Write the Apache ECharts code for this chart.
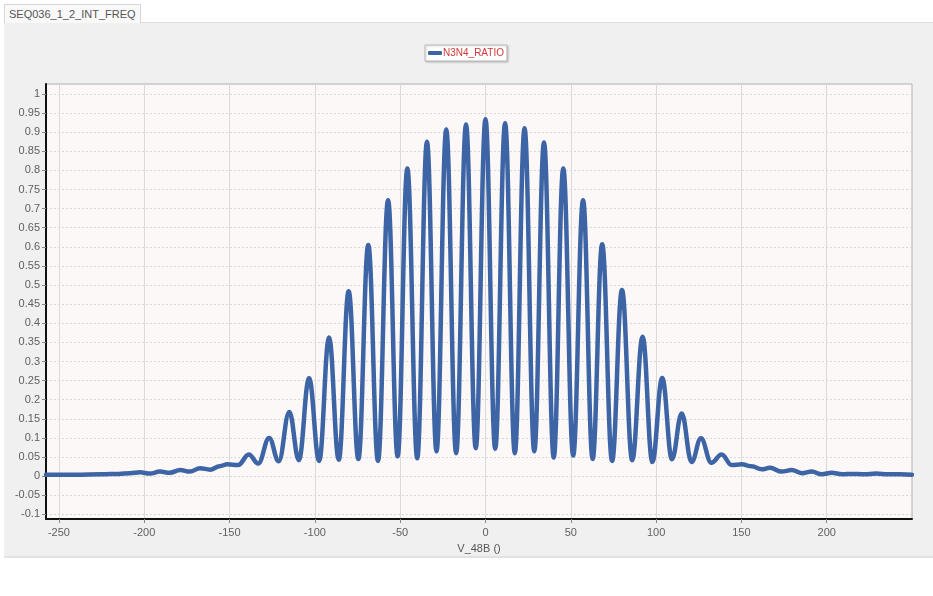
<!DOCTYPE html>
<html>
<head>
<meta charset="utf-8">
<script src="https://cdn.jsdelivr.net/npm/echarts@6/dist/echarts.min.js"></script>
<style>
  body { margin: 0; width: 933px; height: 596px; background: #fff; position: relative; overflow: hidden; font-family: "Liberation Sans", Arial, sans-serif; }
  #panel { position: absolute; left: 4px; top: 22px; width: 929px; height: 533px; background: #f0f0f0; border-top: 1px solid #ddd; border-bottom: 2px solid #e2e2e2; }
  #tab { position: absolute; left: 4px; top: 4px; height: 18px; padding: 0 4px; line-height: 18px; font-size: 11px; color: #555; background: #f9f9f9; border: 1px solid #d6d6d6; border-bottom: none; }
  #main { position: absolute; left: 0; top: 0; width: 933px; height: 596px; }
</style>
</head>
<body>
<div id="panel"></div>
<div id="tab">SEQ036_1_2_INT_FREQ</div>
<div id="main"></div>
<script>
// values: fringe peaks, troughs and the small tail ripples
var voltage = [
  -257.6, -240, -225, -215, -208.4, -202.5, -196.6, -190.8, -185, -179, -173.2, -167.3, -161.4, -155.8, -151.3, -145,
  -138.7, -133.2, -126.8, -121.2, -115.0, -109.4, -103.4, -97.5, -91.7, -86.0, -80.2, -74.5, -68.7, -63.0,
  -57.1, -51.5, -45.8, -40.0, -34.3, -28.7, -23.0, -17.2, -11.4, -5.7, 0, 5.7, 11.5, 17.2, 22.9, 28.6,
  34.3, 40.0, 45.6, 51.4, 57.2, 62.8, 68.4, 74.2, 80.0, 86.0, 92.1, 97.8, 103.6, 109.3, 115.0, 120.8,
  126.3, 132.4, 138.4, 144.3, 150.2, 156, 161.9, 166.8, 173.6, 179.5, 185.4, 191.3, 197.1, 203,
  209, 215, 222, 229, 236, 243, 250
];
var ratio = [
  0.004, 0.004, 0.005, 0.006, 0.008, 0.010, 0.007, 0.012, 0.009, 0.016, 0.012, 0.021, 0.017, 0.026, 0.031, 0.029,
  0.057, 0.033, 0.100, 0.039, 0.168, 0.042, 0.256, 0.040, 0.363, 0.043, 0.484, 0.045, 0.605, 0.040,
  0.722, 0.052, 0.805, 0.047, 0.875, 0.065, 0.907, 0.060, 0.920, 0.073, 0.934, 0.072, 0.923, 0.060, 0.910, 0.065,
  0.873, 0.049, 0.805, 0.054, 0.722, 0.045, 0.607, 0.040, 0.487, 0.042, 0.365, 0.037, 0.257, 0.044, 0.164, 0.037,
  0.099, 0.035, 0.057, 0.029, 0.031, 0.026, 0.018, 0.022, 0.012, 0.016, 0.008, 0.012, 0.005, 0.009,
  0.005, 0.006, 0.005, 0.007, 0.005, 0.005, 0.004
];
var xTicks = [-250, -200, -150, -100, -50, 0, 50, 100, 150, 200];
var yTicks = [-0.1, -0.05, 0, 0.05, 0.1, 0.15, 0.2, 0.25, 0.3, 0.35, 0.4, 0.45, 0.5,
  0.55, 0.6, 0.65, 0.7, 0.75, 0.8, 0.85, 0.9, 0.95, 1];

var chart = echarts.init(document.getElementById('main'));

var points = voltage.map(function (v, i) { return [v, ratio[i]]; });

var option = {
  backgroundColor: 'transparent',
  animation: false,
  textStyle: { fontFamily: 'Liberation Sans' },
  legend: {
    data: ['N3N4_RATIO'],
    left: 425,
    top: 45,
    backgroundColor: '#fff',
    borderColor: '#b8b8b8',
    borderWidth: 1,
    padding: [3, 3, 3, 3],
    itemWidth: 14,
    itemHeight: 4,
    itemGap: 2,
    icon: 'roundRect',
    textStyle: { color: '#d0383a', fontSize: 10, padding: [0, 0, 0, -4] },
    shadowColor: 'rgba(0,0,0,0.2)',
    shadowBlur: 2,
    shadowOffsetX: 1,
    shadowOffsetY: 1
  },
  grid: {
    left: 46, right: 21, top: 84, bottom: 77,
    show: true,
    backgroundColor: '#fcf8f7',
    borderColor: '#b0b0b0',
    borderWidth: 1
  },
  xAxis: {
    type: 'value',
    min: -257.6,
    max: 250,
    name: 'V_48B ()',
    nameLocation: 'middle',
    nameGap: 24,
    nameTextStyle: { color: '#555', fontSize: 11 },
    axisLine: { onZero: false, lineStyle: { color: '#111', width: 2 } },
    axisTick: { customValues: xTicks, length: 4, lineStyle: { color: '#888' } },
    axisLabel: { customValues: xTicks, color: '#606060', fontSize: 11, margin: 8 },
    splitLine: { show: true, lineStyle: { color: '#d9d9d9', width: 1 } }
  },
  yAxis: {
    type: 'value',
    min: -0.112,
    max: 1.026,
    axisLine: { show: true, onZero: false, lineStyle: { color: '#111', width: 2 } },
    axisTick: { show: true, customValues: yTicks, length: 4, lineStyle: { color: '#888' } },
    axisLabel: { customValues: yTicks, color: '#606060', fontSize: 11, margin: 6 },
    splitLine: { show: true, lineStyle: { color: '#d8d8d8', type: [2, 2], width: 1 } }
  },
  series: [{
    name: 'N3N4_RATIO',
    type: 'line',
    data: points,
    showSymbol: false,
    smooth: 0.4,
    smoothMonotone: 'x',
    color: '#3d64a5',
    lineStyle: { width: 4.5, color: '#3d64a5', cap: 'round', join: 'round' }
  }]
};

chart.setOption(option);
</script>
</body>
</html>
